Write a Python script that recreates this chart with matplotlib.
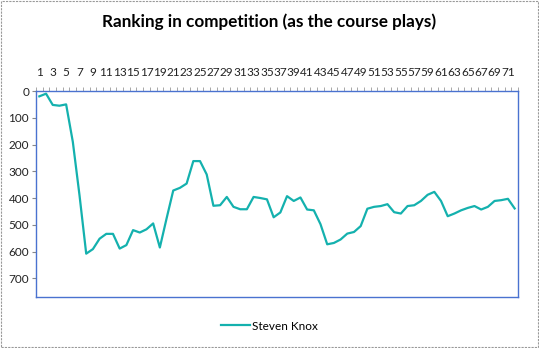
import matplotlib
matplotlib.use("Agg")
import matplotlib.pyplot as plt
from matplotlib.patches import Rectangle
import numpy as np

title = "Ranking in competition (as the course plays)"
series_name = "Steven Knox"
holes = list(range(1, 73))
ranking = [20, 10, 52, 55, 50, 190, 390, 608, 591, 552,
           534, 534, 589, 576, 520, 529, 517, 495, 585, 477,
           372, 362, 346, 262, 262, 312, 429, 427, 396, 433,
           442, 442, 396, 400, 405, 472, 454, 393, 411, 398,
           443, 446, 498, 573, 568, 555, 533, 527, 505, 440,
           433, 430, 423, 453, 458, 430, 427, 411, 388, 377,
           411, 468, 458, 446, 437, 430, 443, 433, 411, 408,
           403, 439]
y_ticks = [0, 100, 200, 300, 400, 500, 600, 700]
x_tick_labels = [str(h) for h in holes[::2]]

plt.rcParams['font.family'] = ['Lato', 'DejaVu Sans']

W, H = 539, 348
fig = plt.figure(figsize=(W / 100, H / 100), dpi=100)
fig.patch.set_facecolor("white")

left, right, top, bottom = 36, 518, 91, 297
ax = fig.add_axes([left / W, 1 - bottom / H, (right - left) / W, (bottom - top) / H])

line, = ax.plot(holes, ranking, color="#14B1AE", lw=1.6, label=series_name)

ax.set_xlim(0.5, 72.5)
ax.set_ylim(770, 0)
ax.set_yticks(y_ticks)
ax.set_yticklabels([str(v) for v in y_ticks], fontsize=8.5, color="#222222")
ax.tick_params(axis="y", length=3, color="#888888", pad=2)

ax.xaxis.tick_top()
ax.set_xticks(holes[::2])
ax.set_xticklabels(x_tick_labels, fontsize=8.5, color="#222222")
ax.set_xticks(np.arange(0.5, 73, 1), minor=True)
ax.tick_params(axis="x", which="major", length=0, pad=9)
ax.tick_params(axis="x", which="minor", length=3, color="#999999", top=True, bottom=False)

for s in ax.spines.values():
    s.set_color("#4A72D0")
    s.set_linewidth(1.0)

fig.text(0.5, 1 - 22 / H, title, ha="center", va="center", fontsize=12.3, fontweight="bold", color="black")

fig.legend(handles=[line], loc="center", bbox_to_anchor=(0.5, 1 - 326 / H), frameon=False,
           fontsize=8.5, handlelength=2.5, handletextpad=0.2)

fig.add_artist(Rectangle((1 / W, 1 / H), 1 - 2 / W, 1 - 2 / H, transform=fig.transFigure,
                         fill=False, edgecolor="#999999", linestyle=(0, (2, 1)), lw=0.8))

fig.savefig("out.png", dpi=100)
